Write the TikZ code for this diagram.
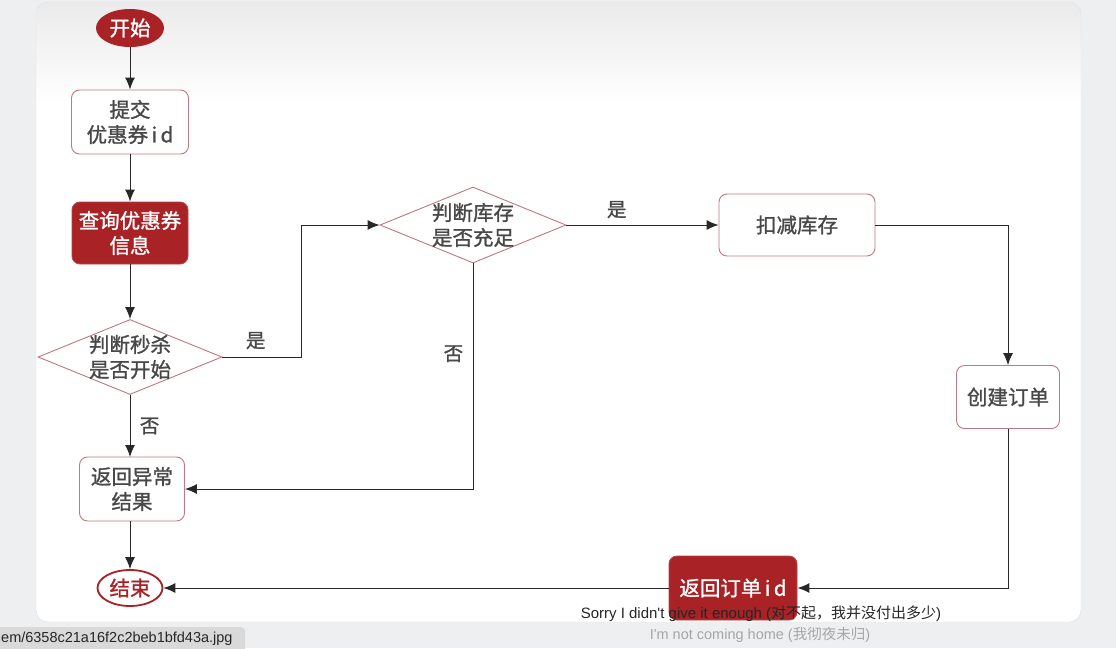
\documentclass[tikz,border=0pt]{standalone}
\usepackage{fontspec}
\newfontfamily\cjk[FakeBold=1.2]{Noto Sans CJK SC}
\newfontfamily\cjkplain{Noto Sans CJK SC}
\newfontfamily\subfont{Liberation Sans}
\usetikzlibrary{shapes.geometric}
\usetikzlibrary{arrows.meta}

\definecolor{darkred}{RGB}{168,34,38}
\definecolor{rose}{RGB}{190,120,130}
\definecolor{txtgrey}{RGB}{72,72,72}
\definecolor{bggrey}{RGB}{238,239,241}
\definecolor{linegrey}{RGB}{40,40,40}

\tikzset{
    plainbox/.style={draw=rose, fill=white, rounded corners=8pt, line width=0.9pt,
        text=txtgrey, font=\cjk\fontsize{20.5}{25}\selectfont, align=center, inner sep=0pt},
    redbox/.style={draw=darkred!85!white, fill=darkred, rounded corners=8pt, line width=0.9pt,
        text=white, font=\cjk\fontsize{20.5}{25}\selectfont, align=center, inner sep=0pt},
    decision/.style={diamond, draw=rose, fill=white, line width=0.9pt, inner sep=0pt},
    dtext/.style={text=txtgrey, font=\cjk\fontsize{20.5}{25}\selectfont, align=center},
    terminal/.style={ellipse, inner sep=0pt, font=\cjk\fontsize{20.5}{25}\selectfont},
    flow/.style={draw=linegrey, line width=1pt, -{Latex[length=12pt,width=10pt]}},
    lbl/.style={text=txtgrey, font=\cjk\fontsize{19.5}{24}\selectfont}
}

\begin{document}
\begin{tikzpicture}[x=1pt,y=-1pt]
    \useasboundingbox (0,0) rectangle (1116,648);

    %% background and panel
    \fill[bggrey] (0,0) rectangle (1116,648);
    \fill[white, rounded corners=12pt] (36,2) rectangle (1081,622);
    \begin{scope}
        \clip[rounded corners=12pt] (36,2) rectangle (1081,622);
        \shade[top color=black!8, bottom color=white] (36,2) rectangle (1081,105);
    \end{scope}
    \draw[black!12, rounded corners=12pt] (36,2) rectangle (1081,622);

    %% left column
    \node[terminal, fill=darkred, text=white, minimum width=68pt, minimum height=38pt] (start) at (130,28) {开始};
    \node[plainbox, minimum width=117pt, minimum height=64pt] (submit) at (130,122) {提交\\优惠券\,i\,d};
    \node[redbox, minimum width=116pt, minimum height=62pt] (query) at (130,233) {查询优惠券\\信息};
    \node[decision, minimum width=184pt, minimum height=75pt] (seckill) at (130,357) {};
    \node[dtext] at (seckill) {判断秒杀\\是否开始};
    \node[plainbox, minimum width=105pt, minimum height=64pt] (fail) at (132,489) {返回异常\\结果};
    \node[terminal, draw=darkred, line width=1.8pt, fill=white, text=darkred, minimum width=65pt, minimum height=36pt] (finish) at (130,588) {结束};

    %% right part
    \node[decision, minimum width=186pt, minimum height=76pt] (stock) at (473,225) {};
    \node[dtext] at (stock) {判断库存\\是否充足};
    \node[plainbox, minimum width=156pt, minimum height=62pt] (deduct) at (797,225) {扣减库存};
    \node[plainbox, minimum width=103pt, minimum height=63pt] (create) at (1008,397) {创建订单};
    \node[redbox, minimum width=128pt, minimum height=64pt] (reply) at (733,588) {返回订单\,i\,d};

    %% connectors
    \draw[flow] (start) -- (submit);
    \draw[flow] (submit) -- (query);
    \draw[flow] (query) -- (seckill);
    \draw[flow] (seckill) -- node[lbl, right, xshift=6pt] {否} (130,457);
    \draw[flow] (130,521) -- (finish);
    \draw[flow] (seckill.east) -- node[lbl, above, pos=0.42, yshift=4pt] {是} ++(79,0) |- (stock.west);
    \draw[flow] (stock.east) -- node[lbl, above, pos=0.33, yshift=3pt] {是} (deduct);
    \draw[flow] (stock.south) |- node[lbl, left, pos=0.2, xshift=-6pt] {否} (fail.east);
    \draw[flow] (deduct.east) -| (create.north);
    \draw[flow] (create.south) |- (reply.east);
    \draw[flow] (reply.west) -- (finish.east);

    %% subtitles and status bar
    \node[font=\fontsize{15}{18}\selectfont, text=black!85] (sub1) at (761,614)
        {\subfont Sorry I didn't give it enough (\cjkplain 对不起，我并没付出多少\subfont )};
    \node[font=\fontsize{14.5}{17}\selectfont, text=black!35] (sub2) at (760,635)
        {\subfont I'm not coming home (\cjkplain 我彻夜未归\subfont )};
    \fill[black!15, rounded corners=4pt] (-6,627) rectangle (245,654);
    \node[anchor=west, inner sep=0pt, font=\subfont\fontsize{14.5}{17}\selectfont, text=black!85] (status) at (1,639)
        {em/6358c21a16f2c2beb1bfd43a.jpg};
\end{tikzpicture}
\end{document}
